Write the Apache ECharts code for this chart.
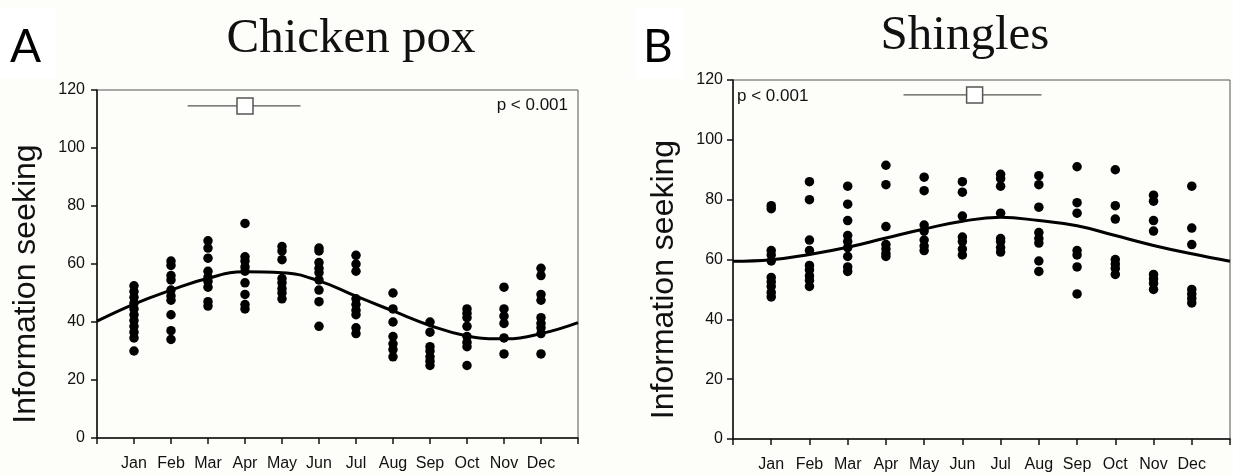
<!DOCTYPE html>
<html>
<head>
<meta charset="utf-8">
<script src="https://cdn.jsdelivr.net/npm/echarts@6/dist/echarts.min.js"></script>
<style>
  html, body { margin: 0; padding: 0; background: #fdfdf9; }
  #chart { width: 1233px; height: 475px; }
</style>
</head>
<body>
<div id="chart"></div>
<script>
// Month axis: position 1..12 are the months, 0 and 13 are the padded ends.
const monthTicks = ['', 'Jan', 'Feb', 'Mar', 'Apr', 'May', 'Jun', 'Jul', 'Aug', 'Sep', 'Oct', 'Nov', 'Dec', ''];
const yTicks = [0, 20, 40, 60, 80, 100, 120];

// Chicken pox: information-seeking values observed in each month (Jan..Dec)
const chickenPox = [
  [52.5, 50.5, 48.5, 46.5, 44.5, 42.5, 40.5, 38.5, 36.5, 34.5, 30],
  [61, 59.5, 56, 54.5, 51, 49, 47.5, 42.5, 37, 34],
  [68, 65.5, 62, 57.5, 55.5, 54, 52, 47, 45.5],
  [74, 62.5, 61, 59, 57.5, 53.5, 49.5, 46, 44.5],
  [66, 64.5, 61.5, 55, 53.5, 51.5, 50, 48],
  [65.5, 64.5, 60.5, 58.5, 57, 54.5, 51, 47, 38.5],
  [63, 60, 57.5, 48, 46, 44, 42.5, 38, 36],
  [50, 44.5, 40, 35, 32.5, 30.5, 28],
  [40, 36.5, 31.5, 30, 28, 26.5, 25],
  [44.5, 43, 41.5, 38.5, 35, 33, 31.5, 25],
  [52, 44.5, 42, 39.5, 34.5, 29],
  [58.5, 56, 49.5, 47.5, 41.5, 39.5, 38, 36, 29]
];

// Shingles: information-seeking values observed in each month (Jan..Dec)
const shingles = [
  [78, 77, 63, 61.5, 59.5, 54, 52.5, 51, 49, 47.5],
  [86, 80, 66.5, 63, 58, 56.5, 54.5, 53, 51],
  [84.5, 78.5, 73, 68, 66, 64, 61, 57.5, 56],
  [91.5, 85, 71, 65, 63.5, 62, 61],
  [87.5, 83, 71.5, 69.5, 66.5, 64.5, 63],
  [86, 82.5, 74.5, 67.5, 66, 63.5, 61.5],
  [88.5, 87, 84.5, 75.5, 67, 66, 64, 62.5],
  [88, 85, 77.5, 69, 67, 65.5, 59.5, 56],
  [91, 79, 75.5, 63, 61.5, 57.5, 48.5],
  [90, 78, 73.5, 60, 58.5, 57, 55],
  [81.5, 79.5, 73, 69.5, 55, 53.5, 52, 50],
  [84.5, 70.5, 65, 50, 48.5, 47, 45.5]
];

// Fitted seasonal curves, sampled at each axis position 0..13
const curveX = [0, 1, 2, 3, 4, 5, 6, 7, 8, 9, 10, 11, 12, 13];
const chickenPoxCurve = [40.3, 46.2, 51, 55.1, 57.3, 57, 54.2, 48.9, 43.8, 38.8, 35.2, 34.2, 36, 39.8];
const shinglesCurve = [59.4, 59.9, 61.7, 64.1, 67.2, 70.2, 72.8, 74.1, 73, 71.3, 68, 64.7, 61.9, 59.4];

// Peak month estimate with its interval, drawn along the top of each panel
const chickenPoxPeak = { at: 4.0, low: 2.45, high: 5.5, level: 114.5 };
const shinglesPeak = { at: 6.32, low: 4.46, high: 8.07, level: 115 };

const pValueText = 'p < 0.001';
const yAxisTitle = 'Information seeking';

const SANS = '"Liberation Sans", Arial, sans-serif';
const SERIF = '"Liberation Serif", "Times New Roman", serif';

function points(byMonth) {
  const out = [];
  byMonth.forEach((vals, i) => vals.forEach(v => out.push([i + 1, v])));
  return out;
}

function xAxisFor(gridIndex) {
  return {
    gridIndex, type: 'value', min: 0, max: 13, interval: 1,
    axisLine: { show: true, lineStyle: { color: '#111', width: 1.5 } },
    axisTick: { show: true, length: 6, lineStyle: { color: '#111', width: 1.5 } },
    axisLabel: { formatter: v => monthTicks[v] || '', color: '#111', fontFamily: SANS, fontSize: 16, margin: 18 },
    splitLine: { show: false }
  };
}

function yAxisFor(gridIndex, nameGap, labelMargin) {
  return {
    gridIndex, type: 'value', min: yTicks[0], max: yTicks[yTicks.length - 1], interval: 20,
    name: yAxisTitle, nameLocation: 'middle', nameGap,
    // extra padding at the text's end pushes the rotated title toward the lower end of the axis
    nameTextStyle: { fontFamily: SANS, fontSize: 32, color: '#111', padding: [0, 40, 0, 0] },
    axisLine: { show: true, lineStyle: { color: '#111', width: 1.5 } },
    axisTick: { show: true, length: 6, lineStyle: { color: '#111', width: 1.5 } },
    axisLabel: { color: '#111', fontFamily: SANS, fontSize: 16, margin: labelMargin },
    splitLine: { show: false }
  };
}

function panelSeries(idx, byMonth, curve, peak) {
  return [
    {
      type: 'line', xAxisIndex: idx, yAxisIndex: idx,
      data: curveX.map((x, i) => [x, curve[i]]),
      smooth: 0.45, showSymbol: false, symbol: 'none',
      lineStyle: { color: '#000', width: 3 }, z: 3, silent: true
    },
    {
      type: 'scatter', xAxisIndex: idx, yAxisIndex: idx,
      data: points(byMonth), symbol: 'circle', symbolSize: 9.5,
      itemStyle: { color: '#000', opacity: 1 }, z: 4, silent: true
    },
    {
      type: 'line', xAxisIndex: idx, yAxisIndex: idx,
      data: [[peak.low, peak.level], [peak.high, peak.level]],
      showSymbol: false, symbol: 'none',
      lineStyle: { color: '#555', width: 1.2 }, z: 5, silent: true
    },
    {
      type: 'scatter', xAxisIndex: idx, yAxisIndex: idx,
      data: [[peak.at, peak.level]], symbol: 'rect', symbolSize: 16,
      itemStyle: { color: '#fff', borderColor: '#555', borderWidth: 1.5, opacity: 1 }, z: 6, silent: true
    }
  ];
}

const chart = echarts.init(document.getElementById('chart'), null, { renderer: 'canvas' });

chart.setOption({
  backgroundColor: '#fdfdf9',
  animation: false,
  title: [
    { text: 'Chicken pox', left: 346, top: 10, textAlign: 'center',
      textStyle: { fontFamily: SERIF, fontSize: 49, fontWeight: 'normal', color: '#111' } },
    { text: 'Shingles', left: 960, top: 7, textAlign: 'center',
      textStyle: { fontFamily: SERIF, fontSize: 49, fontWeight: 'normal', color: '#111' } }
  ],
  grid: [
    { left: 97, top: 90, width: 481, height: 348, show: true, borderColor: '#555', borderWidth: 1, backgroundColor: 'transparent' },
    { left: 733, top: 80, width: 498, height: 359, show: true, borderColor: '#555', borderWidth: 1, backgroundColor: 'transparent' }
  ],
  xAxis: [xAxisFor(0), xAxisFor(1)],
  yAxis: [yAxisFor(0, 55, 12), yAxisFor(1, 53, 10)],
  graphic: [
    { type: 'rect', left: 0, top: 8, shape: { width: 56, height: 70 }, style: { fill: '#fff' }, z: -1 },
    { type: 'rect', left: 636, top: 8, shape: { width: 48, height: 70 }, style: { fill: '#fff' }, z: -1 },
    { type: 'text', left: 10, top: 24, style: { text: 'A', font: '46px Lato, "Open Sans", sans-serif', fill: '#000' } },
    { type: 'text', left: 643, top: 24, style: { text: 'B', font: '46px Lato, "Open Sans", sans-serif', fill: '#000' } },
    { type: 'text', right: 1233 - 568, top: 97, style: { text: pValueText, font: '17px "Liberation Sans", Arial, sans-serif', fill: '#111' } },
    { type: 'text', left: 737, top: 88, style: { text: pValueText, font: '17px "Liberation Sans", Arial, sans-serif', fill: '#111' } }
  ],
  series: [
    ...panelSeries(0, chickenPox, chickenPoxCurve, chickenPoxPeak),
    ...panelSeries(1, shingles, shinglesCurve, shinglesPeak)
  ]
});
</script>
</body>
</html>
